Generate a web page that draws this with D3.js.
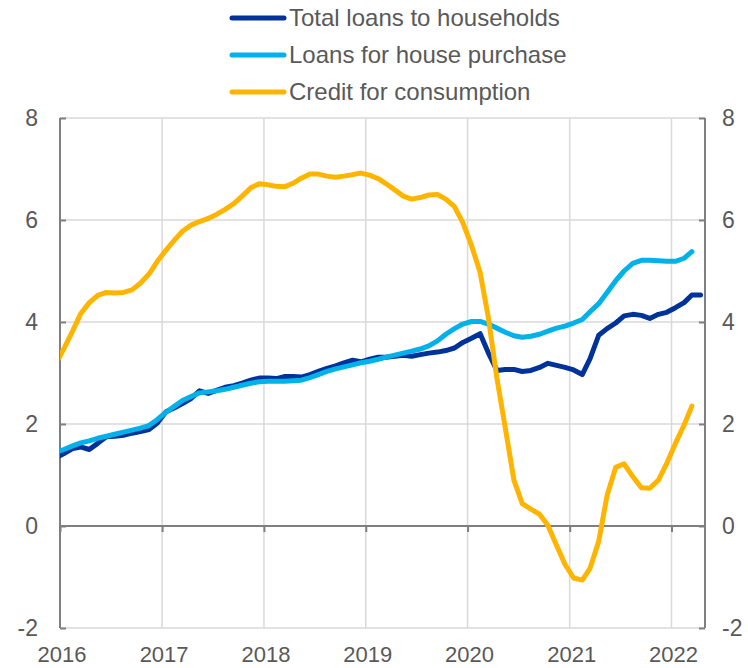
<!DOCTYPE html>
<html>
<head>
<meta charset="utf-8">
<script src="https://cdn.jsdelivr.net/npm/d3@7"></script>
<style>
  html, body { margin: 0; padding: 0; background: #ffffff; }
  svg { display: block; font-family: "Liberation Sans", Arial, sans-serif; }
</style>
</head>
<body>
<svg id="chart" width="748" height="668"></svg>
<script>
// ---- Data (monthly, Dec 2015 – Apr 2022; first point is clipped at the axis) ----
const startMonth = "2015-12";
const seriesNames = ["Total loans to households", "Loans for house purchase", "Credit for consumption"];
const seriesColors = ["#003299", "#00b1ea", "#ffb400"];

const totalLoans = [
  1.33,
  1.42,1.52,1.55,1.50,1.62,1.75,1.76,1.78,1.82,1.85,1.89,2.02,
  2.24,2.32,2.40,2.50,2.65,2.60,2.66,2.72,2.75,2.80,2.86,2.90,
  2.90,2.89,2.93,2.93,2.92,2.97,3.03,3.09,3.14,3.20,3.25,3.22,
  3.27,3.31,3.31,3.33,3.35,3.33,3.36,3.39,3.41,3.44,3.49,3.60,
  3.68,3.77,3.40,3.05,3.07,3.07,3.03,3.05,3.11,3.19,3.15,3.11,
  3.06,2.97,3.28,3.74,3.87,3.98,4.12,4.15,4.13,4.07,4.15,4.19,
  4.28,4.38,4.53,4.53
];
const housePurchase = [
  1.44,
  1.50,1.57,1.63,1.67,1.72,1.76,1.80,1.84,1.88,1.92,1.97,2.09,
  2.23,2.35,2.46,2.54,2.61,2.63,2.65,2.68,2.72,2.76,2.80,2.83,
  2.84,2.84,2.84,2.85,2.86,2.91,2.97,3.03,3.08,3.12,3.16,3.20,
  3.23,3.27,3.31,3.35,3.39,3.43,3.47,3.53,3.63,3.76,3.87,3.96,
  4.01,4.01,3.96,3.88,3.80,3.73,3.70,3.72,3.76,3.82,3.88,3.92,
  3.98,4.05,4.20,4.36,4.58,4.81,5.00,5.15,5.21,5.21,5.20,5.19,
  5.19,5.25,5.38
];
const consumerCredit = [
  3.15,
  3.48,3.82,4.16,4.38,4.52,4.58,4.57,4.58,4.63,4.76,4.94,5.19,
  5.41,5.61,5.78,5.90,5.97,6.03,6.11,6.21,6.32,6.47,6.63,6.71,
  6.69,6.66,6.65,6.72,6.82,6.90,6.90,6.86,6.84,6.86,6.89,6.92,
  6.88,6.81,6.71,6.59,6.47,6.41,6.44,6.49,6.50,6.41,6.26,5.95,
  5.50,4.97,4.10,2.90,1.93,0.90,0.44,0.33,0.23,0.01,-0.38,-0.75,
  -1.02,-1.06,-0.83,-0.30,0.60,1.15,1.22,0.97,0.75,0.74,0.90,1.23,
  1.62,1.98,2.35
];
const yTicks = [-2, 0, 2, 4, 6, 8];
const xTickYears = [2016, 2017, 2018, 2019, 2020, 2021, 2022];

// ---- Layout ----
const svg = d3.select("#chart");
const plot = { left: 60, right: 705, top: 118, bottom: 628 };
const textColor = "#595959";
const axisColor = "#7f7f7f";
const gridColor = "#d9d9d9";
const tickFont = 23;
const yearFont = 22;
const legendFont = 24;

const parseMonth = d3.timeParse("%Y-%m");
const m0 = parseMonth(startMonth);
const monthDate = i => { const d = d3.timeMonth.offset(m0, i); return new Date(d.getFullYear(), d.getMonth(), 15); };

const x = d3.scaleTime()
  .domain([new Date(2016, 0, 1), new Date(2022, 4, 1)])
  .range([plot.left, plot.right]);
const y = d3.scaleLinear().domain([-2, 8]).range([plot.bottom, plot.top]);

// gridlines
const grid = svg.append("g");
grid.selectAll("line.h").data(yTicks.filter(v => v !== 0)).enter().append("line")
  .attr("x1", plot.left).attr("x2", plot.right)
  .attr("y1", d => y(d)).attr("y2", d => y(d))
  .attr("stroke", gridColor).attr("stroke-width", 1.5);
grid.selectAll("line.v").data(xTickYears.slice(1)).enter().append("line")
  .attr("x1", d => x(new Date(d, 0, 1))).attr("x2", d => x(new Date(d, 0, 1)))
  .attr("y1", plot.top).attr("y2", plot.bottom)
  .attr("stroke", gridColor).attr("stroke-width", 1.5);

// left & right axes
const leftAxis = d3.axisRight(y).tickValues(yTicks).tickSize(6).tickFormat("");
const gl = svg.append("g").attr("transform", `translate(${plot.left},0)`).call(leftAxis);
const rightAxis = d3.axisLeft(y).tickValues(yTicks).tickSize(6).tickFormat("");
const gr = svg.append("g").attr("transform", `translate(${plot.right},0)`).call(rightAxis);
[gl, gr].forEach(g => {
  g.select(".domain").attr("stroke", axisColor).attr("stroke-width", 2).attr("d", `M0,${plot.top}V${plot.bottom}`);
  g.selectAll(".tick line").attr("stroke", axisColor).attr("stroke-width", 2);
});

// zero axis with year ticks downward
const zeroAxis = d3.axisBottom(x).tickValues(xTickYears.map(yr => new Date(yr, 0, 1))).tickSize(6).tickFormat("");
const gz = svg.append("g").attr("transform", `translate(0,${y(0)})`).call(zeroAxis);
gz.select(".domain").attr("stroke", axisColor).attr("stroke-width", 2).attr("d", `M${plot.left},0H${plot.right}`);
gz.selectAll(".tick line").attr("stroke", axisColor).attr("stroke-width", 2);

// tick labels
svg.append("g").selectAll("text").data(yTicks).enter().append("text")
  .attr("x", 38).attr("y", d => y(d)).attr("dy", "0.35em")
  .attr("text-anchor", "end").attr("fill", textColor).attr("font-size", tickFont)
  .text(d => d);
svg.append("g").selectAll("text").data(yTicks).enter().append("text")
  .attr("x", 722).attr("y", d => y(d)).attr("dy", "0.35em")
  .attr("text-anchor", "start").attr("fill", textColor).attr("font-size", tickFont)
  .text(d => d);
svg.append("g").selectAll("text").data(xTickYears).enter().append("text")
  .attr("x", d => x(new Date(d, 0, 1)) + 2).attr("y", 662)
  .attr("text-anchor", "middle").attr("fill", textColor).attr("font-size", yearFont)
  .text(d => d);

// clip
svg.append("defs").append("clipPath").attr("id", "clip")
  .append("rect").attr("x", plot.left).attr("y", 0).attr("width", plot.right - plot.left).attr("height", 668);

const allSeries = [totalLoans, housePurchase, consumerCredit];
const line = d3.line().x((d, i) => x(monthDate(i))).y(d => y(d));
const lines = svg.append("g").attr("clip-path", "url(#clip)");
allSeries.forEach((s, k) => {
  lines.append("path").datum(s)
    .attr("d", line)
    .attr("fill", "none")
    .attr("stroke", seriesColors[k])
    .attr("stroke-width", 5)
    .attr("stroke-linejoin", "round")
    .attr("stroke-linecap", "round");
});

// legend
const legend = svg.append("g");
seriesNames.forEach((name, k) => {
  const cy = 18 + k * 37;
  legend.append("line").attr("x1", 232).attr("x2", 284).attr("y1", cy).attr("y2", cy)
    .attr("stroke", seriesColors[k]).attr("stroke-width", 5).attr("stroke-linecap", "round");
  legend.append("text").attr("x", 289).attr("y", cy).attr("dy", "0.35em")
    .attr("fill", textColor).attr("font-size", legendFont).text(name);
});
</script>
</body>
</html>
